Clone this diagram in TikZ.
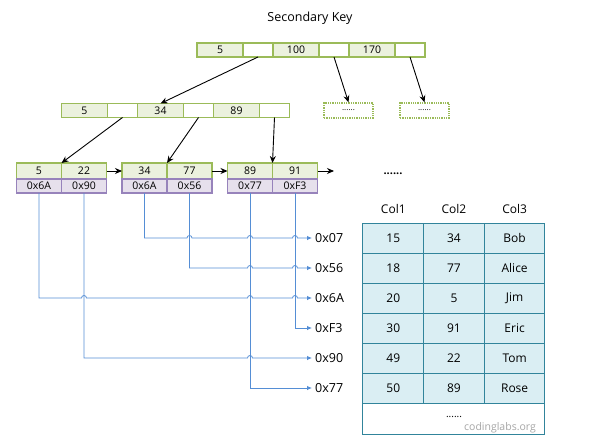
\documentclass[tikz,border=0pt]{standalone}
\usepackage{fontspec}
\setmainfont{Open Sans}
\usetikzlibrary{positioning, calc, arrows.meta}

\definecolor{keyfill}{HTML}{EBF1DE}
\definecolor{keyline}{HTML}{9BBB59}
\definecolor{adrfill}{HTML}{E6E0EC}
\definecolor{adrline}{HTML}{9783BB}
\definecolor{rowfill}{HTML}{DAEEF3}
\definecolor{rowline}{HTML}{31849B}
\definecolor{linkblue}{HTML}{558ED5}

\newcommand{\fs}[1]{\fontsize{#1}{#1}\selectfont}
\newcommand{\hop}{arc[start angle=180, end angle=0, radius=2.5pt]}

\tikzset{
    keycell/.style={rectangle, draw=keyline, fill=keyfill, line width=1.1pt, minimum width=46pt, minimum height=14pt, inner sep=0pt, outer sep=0pt, font=\fs{10.5}},
    ptrcell/.style={keycell, fill=white, minimum width=30pt},
    leafkey/.style={keycell, minimum width=45pt, minimum height=16pt},
    leafadr/.style={leafkey, draw=adrline, fill=adrfill, minimum height=14pt},
    ghost/.style={rectangle, draw=keyline, densely dotted, line width=1.3pt, minimum width=49pt, minimum height=15pt, inner sep=0pt, font=\fs{8}},
    tree/.style={-{Stealth[length=7pt,width=6pt]}, line width=0.9pt},
    link/.style={-{Latex[length=5pt,width=4.5pt]}, linkblue, line width=0.8pt},
    addr/.style={anchor=west, inner sep=3pt, font=\fs{12.5}},
    rowcell/.style={rectangle, draw=rowline, fill=rowfill, line width=1pt, minimum width=60.67pt, minimum height=30pt, inner sep=0pt, outer sep=0pt, font=\fs{12}},
}

\begin{document}
\begin{tikzpicture}[x=1pt, y=-1pt]
    \useasboundingbox (0,0) rectangle (610,447);

    \node[font=\fs{12.5}] (title) at (310,18) {Secondary Key};

    % root
    \node[keycell] (t1) at (220,50) {5};
    \node[ptrcell, right=0pt of t1] (t2) {};
    \node[keycell, right=0pt of t2] (t3) {100};
    \node[ptrcell, right=0pt of t3] (t4) {};
    \node[keycell, right=0pt of t4] (t5) {170};
    \node[ptrcell, right=0pt of t5] (t6) {};

    % second level
    \node[keycell] (s1) at (84.5,110.5) {5};
    \node[ptrcell, right=0pt of s1] (s2) {};
    \node[keycell, right=0pt of s2] (s3) {34};
    \node[ptrcell, right=0pt of s3] (s4) {};
    \node[keycell, right=0pt of s4] (s5) {89};
    \node[ptrcell, right=0pt of s5] (s6) {};

    \node[ghost] (g1) at (348.5,110.5) {......};
    \node[ghost] (g2) at (424.5,110.5) {......};

    % leaves
    \node[leafkey] (l1k1) at (39,171) {5};
    \node[leafkey, right=0pt of l1k1] (l1k2) {22};
    \node[leafadr, below=0pt of l1k1] (l1p1) {0x6A};
    \node[leafadr, below=0pt of l1k2] (l1p2) {0x90};

    \node[leafkey] (l2k1) at (144.5,171) {34};
    \node[leafkey, right=0pt of l2k1] (l2k2) {77};
    \node[leafadr, below=0pt of l2k1] (l2p1) {0x6A};
    \node[leafadr, below=0pt of l2k2] (l2p2) {0x56};

    \node[leafkey] (l3k1) at (250,171) {89};
    \node[leafkey, right=0pt of l3k1] (l3k2) {91};
    \node[leafadr, below=0pt of l3k1] (l3p1) {0x77};
    \node[leafadr, below=0pt of l3k2] (l3p2) {0xF3};

    \coordinate (tail) at (334,171);
    \node[font=\bfseries\fs{11}] (more) at (393,174) {......};

    \draw[tree] (t2.south) -- (s3.north);
    \draw[tree] (t4.south) -- (g1.north);
    \draw[tree] (t6.south) -- (g2.north);
    \draw[tree] (s2.south) -- (l1k1.north east);
    \draw[tree] (s4.south) -- (l2k1.north east);
    \draw[tree] (s6.south) -- (l3k1.north east);
    \draw[tree] (l1k2.east) -- (l2k1.west);
    \draw[tree] (l2k2.east) -- (l3k1.west);
    \draw[tree] (l3k2.east) -- (tail);

    % row addresses
    \node[addr] (a07) at (312,238) {0x07};
    \node[addr] (a56) at (312,268) {0x56};
    \node[addr] (a6A) at (312,298) {0x6A};
    \node[addr] (aF3) at (312,328) {0xF3};
    \node[addr] (a90) at (312,358) {0x90};
    \node[addr] (a77) at (312,388) {0x77};

    \draw[link] (l2p1.south) |- ($(l2p2.south |- a07.west)-(2.5pt,0)$) \hop
        -- ($(l3p1.south |- a07.west)-(2.5pt,0)$) \hop
        -- ($(l3p2.south |- a07.west)-(2.5pt,0)$) \hop -- (a07.west);
    \draw[link] (l2p2.south) |- ($(l3p1.south |- a56.west)-(2.5pt,0)$) \hop
        -- ($(l3p2.south |- a56.west)-(2.5pt,0)$) \hop -- (a56.west);
    \draw[link] (l1p1.south) |- ($(l1p2.south |- a6A.west)-(2.5pt,0)$) \hop
        -- ($(l3p1.south |- a6A.west)-(2.5pt,0)$) \hop
        -- ($(l3p2.south |- a6A.west)-(2.5pt,0)$) \hop -- (a6A.west);
    \draw[link] (l3p2.south) |- (aF3.west);
    \draw[link] (l1p2.south) |- ($(l3p1.south |- a90.west)-(2.5pt,0)$) \hop -- (a90.west);
    \draw[link] (l3p1.south) |- (a77.west);

    % table
    \node[rowcell] (r1a) at (393.3,238) {15};
    \node[rowcell, right=0pt of r1a] (r1b) {34};
    \node[rowcell, right=0pt of r1b] (r1c) {Bob};
    \node[rowcell, below=0pt of r1a] (r2a) {18};
    \node[rowcell, right=0pt of r2a] (r2b) {77};
    \node[rowcell, right=0pt of r2b] (r2c) {Alice};
    \node[rowcell, below=0pt of r2a] (r3a) {20};
    \node[rowcell, right=0pt of r3a] (r3b) {5};
    \node[rowcell, right=0pt of r3b] (r3c) {Jim};
    \node[rowcell, below=0pt of r3a] (r4a) {30};
    \node[rowcell, right=0pt of r4a] (r4b) {91};
    \node[rowcell, right=0pt of r4b] (r4c) {Eric};
    \node[rowcell, below=0pt of r4a] (r5a) {49};
    \node[rowcell, right=0pt of r5a] (r5b) {22};
    \node[rowcell, right=0pt of r5b] (r5c) {Tom};
    \node[rowcell, below=0pt of r5a] (r6a) {50};
    \node[rowcell, right=0pt of r6a] (r6b) {89};
    \node[rowcell, right=0pt of r6b] (r6c) {Rose};
    \node[rowcell, fill=white, minimum width=182pt, minimum height=31pt, below=0pt of r6b] (rest) {};
    \node[font=\fs{10}] (restdots) at (454,417) {......};
    \node[font=\fs{10.5}, text=black!35] (mark) at (500,428) {codinglabs.org};

    \node[font=\fs{12}, above=6pt of r1a] (h1) {Col1};
    \node[font=\fs{12}, above=6pt of r1b] (h2) {Col2};
    \node[font=\fs{12}, above=6pt of r1c] (h3) {Col3};
\end{tikzpicture}
\end{document}
